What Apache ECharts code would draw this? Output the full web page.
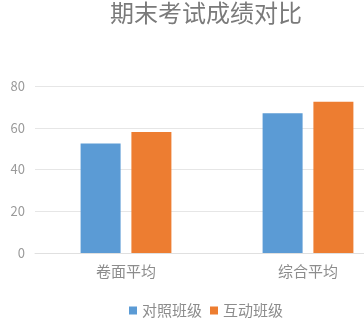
<!DOCTYPE html>
<html><head><meta charset="utf-8">
<script src="https://cdn.jsdelivr.net/npm/echarts@6/dist/echarts.min.js"></script>
<style>html,body{margin:0;padding:0;background:#fff;overflow:hidden;width:364px;height:321px}#c{width:412px;height:321px}</style>
</head><body><div id="c"></div>
<script>
var categories = ['卷面平均', '综合平均'];
var seriesNames = ['对照班级', '互动班级'];
var controlValues = [52.5, 67];
var interactiveValues = [58, 72.5];
var yTicks = [0, 20, 40, 60, 80];
var chart = echarts.init(document.getElementById('c'));
var font = '"Noto Sans CJK SC", sans-serif';
chart.setOption({
  animation: false,
  title: {text: '期末考试成绩对比', left: 'center', top: -4,
    textStyle: {fontSize: 24, fontWeight: 'normal', color: '#7a7a7a', fontFamily: font}},
  legend: {data: seriesNames, left: 'center', top: 298, itemWidth: 8, itemHeight: 8, itemGap: 8,
    icon: 'rect', textStyle: {fontSize: 15, color: '#8c8c8c', fontFamily: font}},
  grid: {left: 35, right: 13, top: 86, bottom: 68, containLabel: false},
  xAxis: {type: 'category', data: categories,
    axisLine: {show: true, lineStyle: {color: '#e0e0e0'}}, axisTick: {show: false},
    axisLabel: {fontSize: 15, color: '#8c8c8c', margin: 11, fontFamily: font}},
  yAxis: {type: 'value', min: yTicks[0], max: yTicks[yTicks.length-1], interval: 20,
    axisLine: {show: false}, axisTick: {show: false},
    splitLine: {lineStyle: {color: '#e6e6e6'}},
    axisLabel: {fontSize: 13, color: '#9a9a9a', margin: 10, fontFamily: font}},
  series: [
    {name: seriesNames[0], type: 'bar', data: controlValues, barWidth: 40, barGap: '27%',
      itemStyle: {color: '#5B9BD5'}},
    {name: seriesNames[1], type: 'bar', data: interactiveValues, barWidth: 40, barGap: '27%',
      itemStyle: {color: '#ED7D31'}}
  ]
});
</script></body></html>
